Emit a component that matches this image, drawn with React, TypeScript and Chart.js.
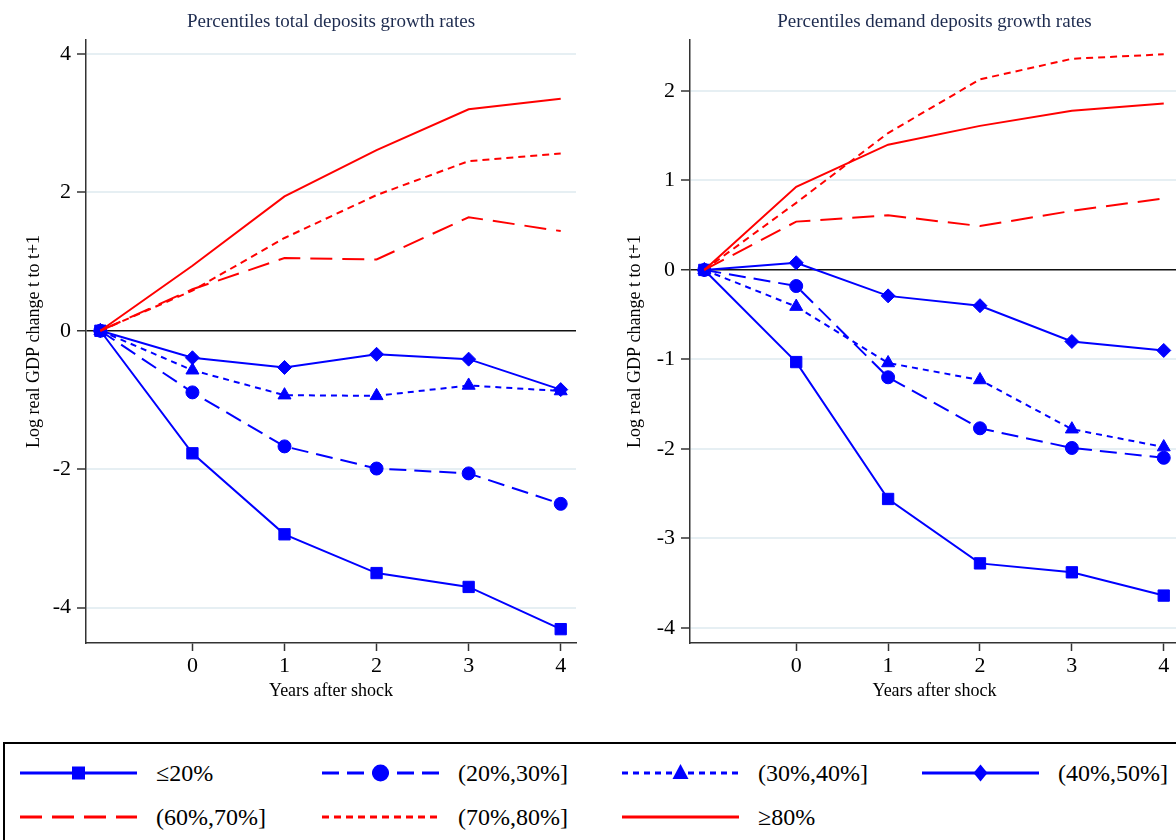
import React, { useEffect, useRef } from "react";
import { Chart, registerables } from "chart.js";
Chart.register(...registerables);

const FONT = "'Liberation Serif', 'Times New Roman', serif";

const xValues = [-1, 0, 1, 2, 3, 4];
const xTickValues = [0, 1, 2, 3, 4];
const seriesLabels = ["≤20%", "(20%,30%]", "(30%,40%]", "(40%,50%]", "(60%,70%]", "(70%,80%]", "≥80%"];

// Left panel: percentiles of total deposits growth rates
const totalP20 = [0, -1.77, -2.94, -3.5, -3.7, -4.31];
const totalP30 = [0, -0.89, -1.67, -1.99, -2.06, -2.5];
const totalP40 = [0, -0.57, -0.93, -0.94, -0.79, -0.87];
const totalP50 = [0, -0.39, -0.53, -0.34, -0.41, -0.85];
const totalP70 = [0, 0.6, 1.05, 1.03, 1.64, 1.44];
const totalP80 = [0, 0.58, 1.34, 1.96, 2.45, 2.56];
const totalP100 = [0, 0.94, 1.94, 2.61, 3.2, 3.35];

// Right panel: percentiles of demand deposits growth rates
const demandP20 = [0, -1.03, -2.56, -3.28, -3.38, -3.64];
const demandP30 = [0, -0.18, -1.2, -1.77, -1.99, -2.1];
const demandP40 = [0, -0.41, -1.04, -1.23, -1.78, -1.98];
const demandP50 = [0, 0.08, -0.29, -0.4, -0.8, -0.9];
const demandP70 = [0, 0.54, 0.61, 0.49, 0.66, 0.8];
const demandP80 = [0, 0.75, 1.53, 2.13, 2.36, 2.41];
const demandP100 = [0, 0.93, 1.4, 1.61, 1.78, 1.86];

const leftYTicks = [-4, -2, 0, 2, 4];
const rightYTicks = [-4, -3, -2, -1, 0, 1, 2];

const leftTitle = "Percentiles total deposits growth rates";
const rightTitle = "Percentiles demand deposits growth rates";
const yTitle = "Log real GDP change t to t+1";
const xTitle = "Years after shock";

type Style = { color: string; dash: number[]; point: string | null; radius: number };
const styles: Style[] = [
  { color: "#0000ff", dash: [], point: "rect", radius: 8 },
  { color: "#0000ff", dash: [17, 8], point: "circle", radius: 6.5 },
  { color: "#0000ff", dash: [6, 5], point: "triangle", radius: 7.5 },
  { color: "#0000ff", dash: [], point: "rectRot", radius: 7 },
  { color: "#ff0000", dash: [22, 10], point: null, radius: 0 },
  { color: "#ff0000", dash: [7, 5], point: null, radius: 0 },
  { color: "#ff0000", dash: [], point: null, radius: 0 },
];

function makeConfig(
  title: string,
  series: number[][],
  yMin: number,
  yMax: number,
  yTicks: number[],
  yAxisWidth: number,
  rightPad: number,
  yTitlePad: number
): any {
  return {
    type: "line",
    data: {
      datasets: series.map((vals, i) => ({
        label: seriesLabels[i],
        data: xValues.map((x, j) => ({ x, y: vals[j] })),
        borderColor: styles[i].color,
        backgroundColor: styles[i].color,
        pointBorderColor: styles[i].color,
        pointBackgroundColor: styles[i].color,
        borderWidth: 2,
        borderDash: styles[i].dash,
        pointStyle: styles[i].point || "circle",
        pointRadius: styles[i].radius,
        pointBorderWidth: 1,
        pointHoverRadius: styles[i].radius,
        tension: 0,
        fill: false,
        order: series.length - i,
      })),
    },
    options: {
      responsive: false,
      animation: false,
      devicePixelRatio: 1,
      events: [],
      layout: { padding: { left: 0, right: rightPad, top: 0, bottom: 0 } },
      plugins: {
        legend: { display: false },
        tooltip: { enabled: false },
        title: {
          display: true,
          text: title,
          fullSize: false,
          color: "#1d2b4f",
          font: { family: FONT, size: 19, weight: "normal", lineHeight: 1.2 },
          padding: { top: 11, bottom: 6.2 },
        },
      },
      scales: {
        x: {
          type: "linear",
          min: -1.156,
          max: 4.166,
          afterBuildTicks: (s: any) => {
            s.ticks = xTickValues.map((v) => ({ value: v }));
          },
          afterFit: (s: any) => {
            s.height = 61;
          },
          ticks: {
            color: "#000",
            font: { family: FONT, size: 22 },
            padding: 2.5,
            maxRotation: 0,
            autoSkip: false,
          },
          grid: {
            drawOnChartArea: false,
            drawTicks: true,
            tickLength: 8,
            tickColor: "#333",
            tickWidth: 1.5,
          },
          border: { color: "#333", width: 1.5 },
          title: {
            display: true,
            text: xTitle,
            color: "#000",
            font: { family: FONT, size: 18, lineHeight: 1.2 },
            padding: { top: 0, bottom: 2 },
          },
        },
        y: {
          type: "linear",
          min: yMin,
          max: yMax,
          afterBuildTicks: (s: any) => {
            s.ticks = yTicks.map((v) => ({ value: v }));
          },
          afterFit: (s: any) => {
            s.width = yAxisWidth;
          },
          ticks: {
            color: "#000",
            font: { family: FONT, size: 22 },
            padding: 6,
            autoSkip: false,
          },
          grid: {
            drawOnChartArea: true,
            drawTicks: true,
            tickLength: 9,
            tickColor: "#333",
            tickWidth: 1.5,
            color: (c: any) => (c.tick && c.tick.value === 0 ? "#111" : "#e6eff3"),
            lineWidth: (c: any) => (c.tick && c.tick.value === 0 ? 1.5 : 2),
          },
          border: { color: "#333", width: 1.5 },
          title: {
            display: true,
            text: yTitle,
            color: "#000",
            font: { family: FONT, size: 18, lineHeight: 1.2 },
            padding: { top: yTitlePad, bottom: 0 },
          },
        },
      },
    },
  };
}

function LegendMarker({ point, color }: { point: string | null; color: string }) {
  const cx = 58.5;
  const cy = 12;
  if (point === "rect") return <rect x={cx - 6.5} y={cy - 6.5} width={13} height={13} fill={color} />;
  if (point === "circle") return <circle cx={cx} cy={cy} r={8.5} fill={color} />;
  if (point === "triangle")
    return <polygon points={`${cx},${cy - 9} ${cx - 8},${cy + 6} ${cx + 8},${cy + 6}`} fill={color} />;
  if (point === "rectRot")
    return <polygon points={`${cx},${cy - 8.5} ${cx + 7},${cy} ${cx},${cy + 8.5} ${cx - 7},${cy}`} fill={color} />;
  return null;
}

const legendCols = [20, 322, 622, 922];
const legendRows = [773, 817];

export default function App() {
  const leftRef = useRef<HTMLCanvasElement>(null);
  const rightRef = useRef<HTMLCanvasElement>(null);

  useEffect(() => {
    const left = new Chart(
      leftRef.current as HTMLCanvasElement,
      makeConfig(
        leftTitle,
        [totalP20, totalP30, totalP40, totalP50, totalP70, totalP80, totalP100],
        -4.51,
        4.2,
        leftYTicks,
        86,
        14,
        23
      )
    );
    const right = new Chart(
      rightRef.current as HTMLCanvasElement,
      makeConfig(
        rightTitle,
        [demandP20, demandP30, demandP40, demandP50, demandP70, demandP80, demandP100],
        -4.17,
        2.57,
        rightYTicks,
        90,
        21,
        24
      )
    );
    return () => {
      left.destroy();
      right.destroy();
    };
  }, []);

  return (
    <div
      style={{
        position: "absolute",
        left: 0,
        top: 0,
        width: 1176,
        height: 840,
        overflow: "hidden",
        background: "#fff",
        fontFamily: FONT,
      }}
    >
      <canvas
        ref={leftRef}
        width={590}
        height={704}
        style={{ position: "absolute", left: 0, top: 0, width: 590, height: 704 }}
      />
      <canvas
        ref={rightRef}
        width={600}
        height={704}
        style={{ position: "absolute", left: 600, top: 0, width: 600, height: 704 }}
      />
      <div
        style={{
          position: "absolute",
          left: 3,
          top: 742,
          width: 1250,
          height: 140,
          border: "2px solid #000",
          boxSizing: "border-box",
        }}
      />
      {seriesLabels.map((label, i) => {
        const col = i < 4 ? i : i - 4;
        const row = i < 4 ? 0 : 1;
        const x = legendCols[col];
        const y = legendRows[row];
        const st = styles[i];
        return (
          <React.Fragment key={label}>
            <svg
              width={117}
              height={24}
              style={{ position: "absolute", left: x, top: y - 12 }}
            >
              <line
                x1={0}
                y1={12}
                x2={117}
                y2={12}
                stroke={st.color}
                strokeWidth={3}
                strokeDasharray={st.dash.length ? st.dash.join(" ") : undefined}
              />
              <LegendMarker point={st.point} color={st.color} />
            </svg>
            <div
              style={{
                position: "absolute",
                left: x + 136,
                top: y - 15,
                height: 30,
                lineHeight: "30px",
                fontSize: 24,
                color: "#000",
                whiteSpace: "nowrap",
              }}
            >
              {label}
            </div>
          </React.Fragment>
        );
      })}
    </div>
  );
}
